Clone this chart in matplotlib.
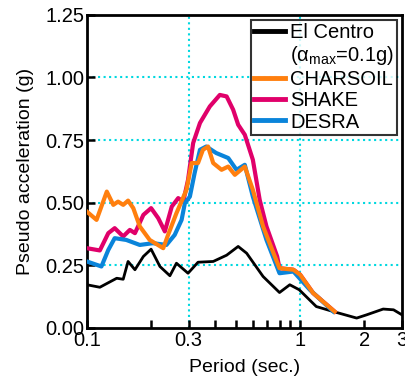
import matplotlib.pyplot as plt
from matplotlib.lines import Line2D
from matplotlib.ticker import FixedLocator, NullFormatter

plt.rcParams['font.family'] = ['Liberation Sans', 'DejaVu Sans']
plt.rcParams['mathtext.fontset'] = 'custom'
plt.rcParams['mathtext.rm'] = 'Liberation Sans'

# 反應譜資料 (週期, 擬似加速度)
t_centro = [0.1, 0.115, 0.138, 0.148, 0.156, 0.168, 0.184, 0.2, 0.22, 0.245, 0.263,
            0.298, 0.332, 0.391, 0.452, 0.512, 0.561, 0.67, 0.8, 0.894, 0.99,
            1.19, 1.43, 1.84, 2.05, 2.45, 2.74, 3.0]
sa_centro = [0.172, 0.162, 0.198, 0.194, 0.265, 0.232, 0.285, 0.314, 0.245, 0.208, 0.258,
             0.218, 0.262, 0.265, 0.29, 0.325, 0.298, 0.205, 0.141, 0.172, 0.152,
             0.085, 0.065, 0.039, 0.052, 0.075, 0.072, 0.052]

t_char = [0.1, 0.111, 0.124, 0.133, 0.14, 0.148, 0.156, 0.165, 0.177, 0.197, 0.228,
          0.24, 0.263, 0.293, 0.31, 0.332, 0.35, 0.37, 0.391, 0.428, 0.46, 0.494,
          0.55, 0.6, 0.67, 0.75, 0.8, 0.93, 1.0, 1.15, 1.45]
sa_char = [0.464, 0.431, 0.544, 0.491, 0.504, 0.491, 0.508, 0.478, 0.405, 0.351, 0.318,
           0.37, 0.458, 0.551, 0.658, 0.658, 0.711, 0.724, 0.658, 0.631, 0.644, 0.611,
           0.644, 0.551, 0.405, 0.298, 0.238, 0.232, 0.212, 0.139, 0.065]

t_shake = [0.1, 0.115, 0.126, 0.135, 0.148, 0.159, 0.168, 0.184, 0.2, 0.216, 0.232,
           0.25, 0.268, 0.283, 0.298, 0.315, 0.339, 0.377, 0.42, 0.452, 0.485, 0.512,
           0.55, 0.6, 0.646, 0.695, 0.78, 0.8, 0.93, 1.0, 1.15, 1.45]
sa_shake = [0.318, 0.309, 0.378, 0.398, 0.365, 0.391, 0.378, 0.451, 0.478, 0.438, 0.385,
            0.484, 0.518, 0.504, 0.591, 0.738, 0.818, 0.884, 0.93, 0.924, 0.871, 0.811,
            0.771, 0.671, 0.511, 0.405, 0.285, 0.238, 0.232, 0.212, 0.139, 0.065]

t_desra = [0.1, 0.117, 0.126, 0.135, 0.153, 0.177, 0.204, 0.236, 0.258, 0.278, 0.288,
           0.304, 0.32, 0.339, 0.363, 0.404, 0.46, 0.503, 0.55, 0.6, 0.695, 0.8,
           0.93, 1.11, 1.43]
sa_desra = [0.265, 0.245, 0.311, 0.358, 0.351, 0.331, 0.338, 0.331, 0.371, 0.431, 0.498,
            0.524, 0.618, 0.711, 0.724, 0.698, 0.678, 0.631, 0.651, 0.524, 0.351, 0.218,
            0.225, 0.152, 0.065]

x_ticks = [0.1, 0.3, 1, 2, 3]
x_minor = [0.2, 0.4, 0.5, 0.6, 0.7, 0.8, 0.9]
y_ticks = [0, 0.25, 0.5, 0.75, 1.0, 1.25]

fig = plt.figure(figsize=(4.06, 3.79), dpi=100)
ax = fig.add_axes([0.214, 0.135, 0.776, 0.826])

l1, = ax.plot(t_centro, sa_centro, color='black', lw=2.0, solid_joinstyle='round', zorder=3)
l2, = ax.plot(t_char, sa_char, color='#FF7F0E', lw=3.0, solid_joinstyle='round', zorder=6)
l3, = ax.plot(t_shake, sa_shake, color='#E0006A', lw=3.0, solid_joinstyle='round', zorder=4)
l4, = ax.plot(t_desra, sa_desra, color='#0A84DA', lw=3.0, solid_joinstyle='round', zorder=5)

ax.set_xscale('log')
ax.set_xlim(0.1, 3)
ax.set_ylim(0, 1.25)
ax.xaxis.set_major_locator(FixedLocator(x_ticks))
ax.xaxis.set_minor_locator(FixedLocator(x_minor))
ax.xaxis.set_minor_formatter(NullFormatter())
ax.set_xticklabels(['0.1', '0.3', '1', '2', '3'])
ax.set_yticks(y_ticks)
ax.set_yticklabels(['0.00', '0.25', '0.50', '0.75', '1.00', '1.25'])
ax.tick_params(which='both', direction='in', length=6, width=1.8, labelsize=14.5, pad=2)

# 格線只畫在 0.3、1 與 0.25 間隔
for xv in [0.3, 1]:
    ax.axvline(xv, color='#00D8E0', ls=':', lw=1.5, zorder=1)
for yv in [0.25, 0.5, 0.75, 1.0]:
    ax.axhline(yv, color='#00D8E0', ls=':', lw=1.5, zorder=1)

for s in ax.spines.values():
    s.set_linewidth(2)

ax.set_xlabel('Period (sec.)', fontsize=14, labelpad=7)
ax.set_ylabel('Pseudo acceleration (g)', fontsize=14, labelpad=8)

# 第二行 (α_max) 用空白圖例線
blank = Line2D([], [], color='none')
leg = ax.legend([l1, blank, l2, l3, l4],
                ['El Centro', '(α$_{\\rm max}$=0.1g)', 'CHARSOIL', 'SHAKE', 'DESRA'],
                loc='upper right', fontsize=14.5, frameon=True, fancybox=False,
                handlelength=1.55, handletextpad=0.25, borderpad=0.15, labelspacing=0.12,
                borderaxespad=0.25)
leg.get_frame().set_edgecolor('black')
leg.get_frame().set_linewidth(1.5)
for line in leg.get_lines():
    line.set_linewidth(3.5)

plt.savefig('out.png', dpi=100)
